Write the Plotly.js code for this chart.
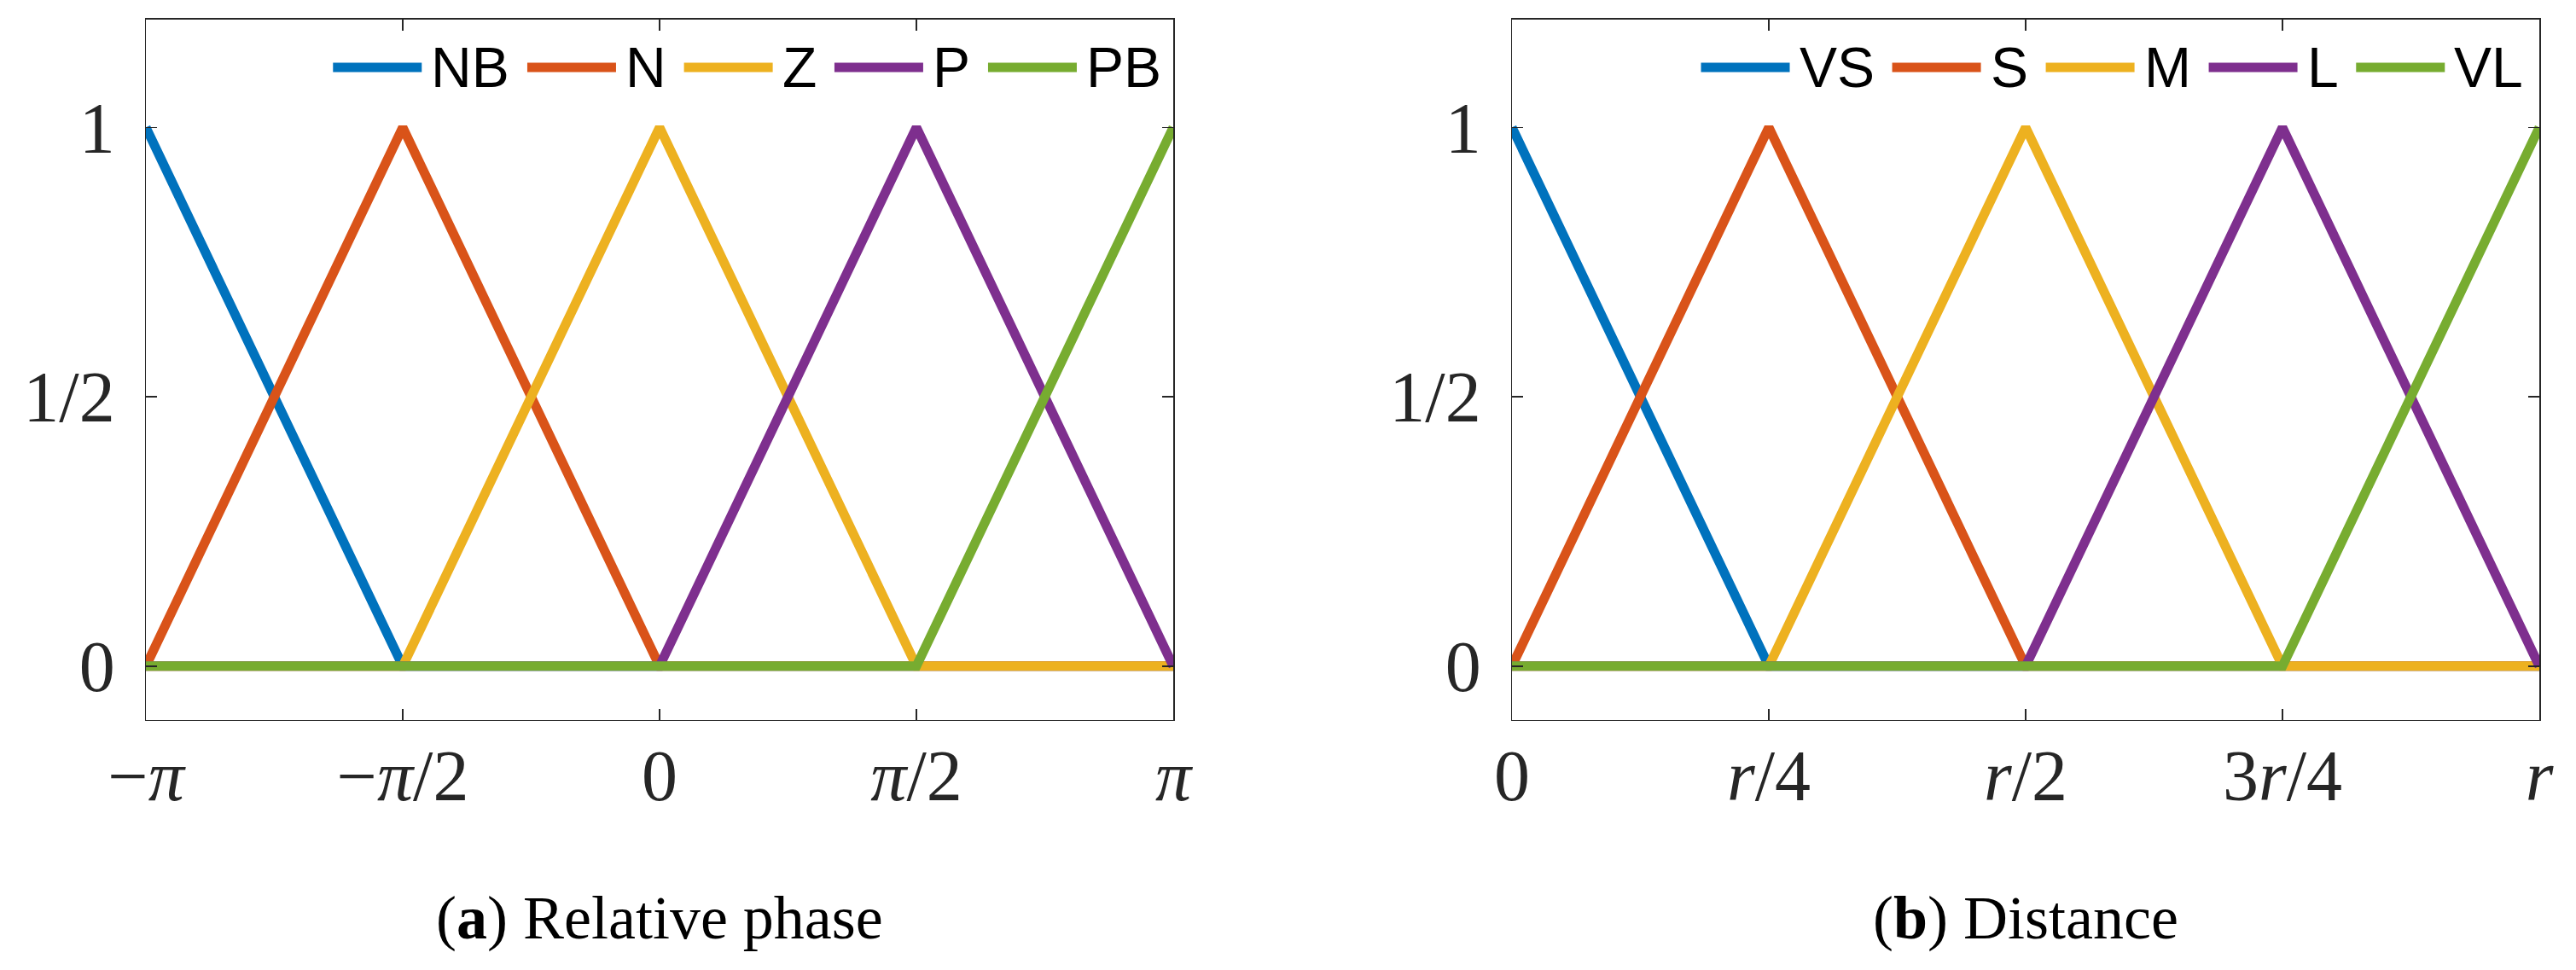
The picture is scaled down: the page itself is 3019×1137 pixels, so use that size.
<!DOCTYPE html>
<html>
<head>
<meta charset="utf-8">
<script src="https://cdn.plot.ly/plotly-3.0.1.min.js"></script>
<style>body{margin:0;background:#fff}</style>
</head>
<body>
<div id="plot" style="width:3019px;height:1137px"></div>
<script>
const PI = Math.PI;

// panel (a): relative phase
const phaseX = [-PI, -PI / 2, 0, PI / 2, PI];
const phaseTickText = ["−<i>π</i>", "−<i>π</i>/2", "0", "<i>π</i>/2", "<i>π</i>"];
const phaseNames = ["NB", "N", "Z", "P", "PB"];
const NB = [1, 0, 0, 0, 0];
const N  = [0, 1, 0, 0, 0];
const Z  = [0, 0, 1, 0, 0];
const P  = [0, 0, 0, 1, 0];
const PB = [0, 0, 0, 0, 1];

// panel (b): distance, x in units of r
const distX = [0, 0.25, 0.5, 0.75, 1];
const distTickText = ["0", "<i>r</i>/4", "<i>r</i>/2", "3<i>r</i>/4", "<i>r</i>"];
const distNames = ["VS", "S", "M", "L", "VL"];
const VS = [1, 0, 0, 0, 0];
const S  = [0, 1, 0, 0, 0];
const M  = [0, 0, 1, 0, 0];
const L  = [0, 0, 0, 1, 0];
const VL = [0, 0, 0, 0, 1];

const yTickVals = [0, 0.5, 1];
const yTickText = ["0", "1/2", "1"];

const subtitles = ["(<b>a</b>) Relative phase", "(<b>b</b>) Distance"];

const colors = ["#0072BD", "#D95319", "#EDB120", "#7E2F8E", "#77AC30"];

const W = 3019, H = 1137;
const axisColor = "#262626";
const tickFont = { family: "Liberation Serif, serif", size: 84, color: axisColor };
const legFont = { family: "Liberation Sans, Arial, sans-serif", size: 66, color: "#000" };

let traces = [];
function addPanel(xs, series, names, xa, ya) {
  series.forEach((ys, i) => {
    traces.push({
      x: xs, y: ys, name: names[i], xaxis: xa, yaxis: ya,
      mode: "lines", line: { color: colors[i], width: 11 },
      showlegend: false, hoverinfo: "skip"
    });
  });
}
addPanel(phaseX, [NB, N, Z, P, PB], phaseNames, "x", "y");
addPanel(distX, [VS, S, M, L, VL], distNames, "x2", "y2");

function xaxis(domain, range, vals, text) {
  return {
    domain: domain, range: range, tickvals: vals, ticktext: text,
    showgrid: false, zeroline: false, showline: true, mirror: "ticks",
    linecolor: axisColor, linewidth: 1.5, ticks: "inside", ticklen: 13,
    tickwidth: 1.5, tickcolor: axisColor, tickfont: tickFont,
    ticklabelstandoff: -8, fixedrange: true
  };
}
function yaxis(anchor) {
  return {
    domain: [0.2577, 0.9798], range: [-0.1, 1.2], anchor: anchor,
    tickvals: yTickVals, ticktext: yTickText,
    showgrid: false, zeroline: false, showline: true, mirror: "ticks",
    linecolor: axisColor, linewidth: 1.5, ticks: "inside", ticklen: 13,
    tickwidth: 1.5, tickcolor: axisColor, tickfont: tickFont,
    ticklabelstandoff: 18, fixedrange: true
  };
}

const domA = [171 / W, 1375 / W];
const domB = [1772 / W, 2976 / W];

// legend drawn as shapes + annotations, right aligned inside each panel
const canvas = document.createElement("canvas");
const ctx = canvas.getContext("2d");
ctx.font = legFont.size + "px 'Liberation Sans'";
let shapes = [], annotations = [];
function buildLegend(names, rightPx) {
  const yPaper = (H - 79) / H;
  let end = rightPx;
  for (let i = names.length - 1; i >= 0; i--) {
    const w = ctx.measureText(names[i]).width;
    const tx = end - w;
    const lx1 = tx - 10, lx0 = lx1 - 104;
    annotations.push({
      xref: "paper", yref: "paper", x: tx / W, y: yPaper,
      xanchor: "left", yanchor: "middle", text: names[i],
      showarrow: false, font: legFont, borderpad: 0
    });
    shapes.push({
      type: "line", xref: "paper", yref: "paper",
      x0: lx0 / W, x1: lx1 / W, y0: yPaper, y1: yPaper,
      line: { color: colors[i], width: 11 }
    });
    end = lx0 - 22;
  }
}
buildLegend(phaseNames, 1360);
buildLegend(distNames, 2956);

[domA, domB].forEach((d, i) => {
  annotations.push({
    xref: "paper", yref: "paper", x: (d[0] + d[1]) / 2, y: (H - 1076) / H,
    xanchor: "center", yanchor: "middle", text: subtitles[i], showarrow: false,
    font: { family: "Liberation Serif, serif", size: 72, color: "#000" }
  });
});

const layout = {
  width: W, height: H,
  margin: { l: 0, r: 0, t: 0, b: 0 },
  paper_bgcolor: "#fff", plot_bgcolor: "#fff",
  showlegend: false,
  xaxis: Object.assign(xaxis(domA, [-PI, PI], phaseX, phaseTickText), { anchor: "y" }),
  yaxis: yaxis("x"),
  xaxis2: Object.assign(xaxis(domB, [0, 1], distX, distTickText), { anchor: "y2" }),
  yaxis2: yaxis("x2"),
  shapes: shapes,
  annotations: annotations
};

Plotly.newPlot("plot", traces, layout, { staticPlot: true });
</script>
</body>
</html>
